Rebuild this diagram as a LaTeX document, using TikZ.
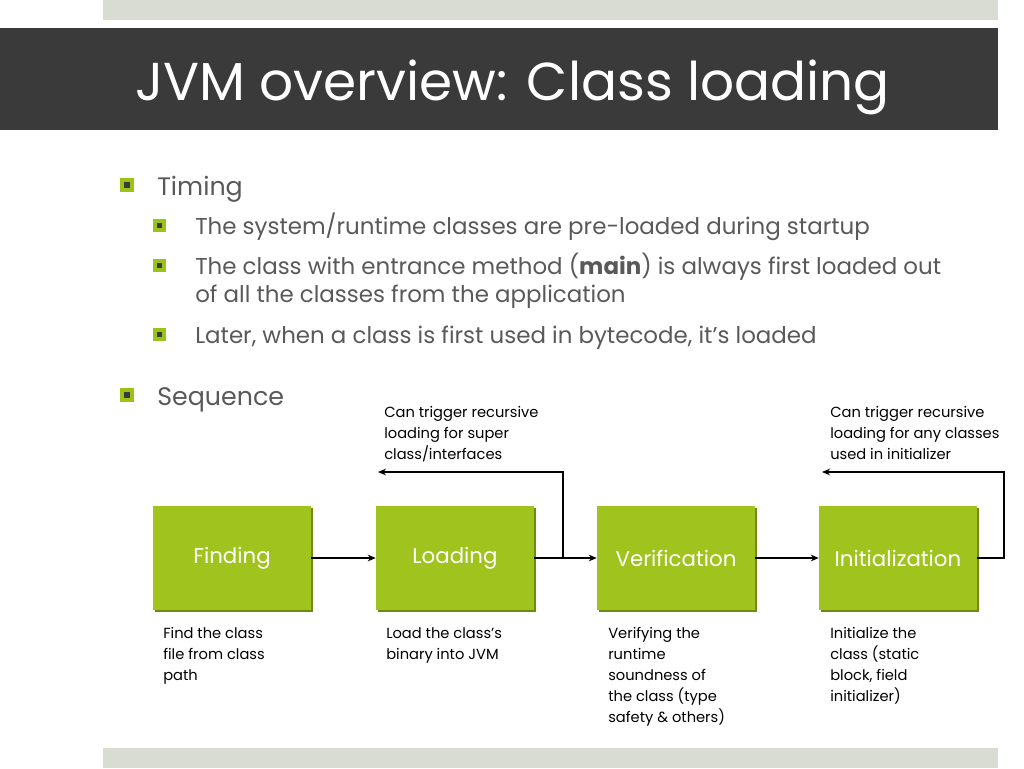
\documentclass[tikz,border=0pt]{standalone}
\usepackage{fontspec}
\setmainfont{Poppins}
\usetikzlibrary{arrows.meta}
\definecolor{gbar}{HTML}{D9DCD3}
\definecolor{dark}{HTML}{3A3A3A}
\definecolor{txt}{HTML}{595959}
\definecolor{boxg}{HTML}{A0C31E}
\definecolor{boxd}{HTML}{6F8A10}
\definecolor{bul}{HTML}{9CC21A}
\begin{document}
\begin{tikzpicture}[x=0.75pt,y=-0.75pt,
  stagebox/.style={fill=boxg,minimum width=118.5pt,minimum height=78pt,inner sep=0pt,text=white,font=\fontsize{16}{19}\selectfont},
  note/.style={anchor=north west,inner sep=0pt,align=left,text=black,font=\fontsize{11}{15.75}\selectfont},
  lvl1/.style={anchor=base west,inner sep=0pt,text=txt,font=\fontsize{19}{22}\selectfont},
  lvl2/.style={anchor=base west,inner sep=0pt,text=txt,font=\fontsize{17.2}{21}\selectfont},
  conn/.style={line width=1.6pt,-{Stealth[length=6pt,width=5pt]}}]
\useasboundingbox (0,0) rectangle (1024,768);
\fill[white] (0,0) rectangle (1024,768);
\fill[gbar] (103,0) rectangle (998,20);
\fill[gbar] (103,748) rectangle (998,768);
\fill[dark] (0,28) rectangle (998,130);
\node[anchor=base west,inner sep=0pt,text=white,font=\fontsize{40}{44}\selectfont] (title) at (135,100) {JVM overview: Class loading};
% bullets
\foreach \x/\y in {120/178,120/388}{
  \fill[bul] (\x,\y) rectangle ++(14,14);
  \fill[dark] (\x+4,\y+4) rectangle ++(6,6);}
\foreach \y in {219,259,328}{
  \fill[bul] (153,\y) rectangle ++(13,13);
  \fill[dark] (157,\y+4) rectangle ++(5,5);}
\node[lvl1] (t1) at (157,195) {Timing};
\node[lvl2] (s1) at (195,234) {The system/runtime classes are pre-loaded during startup};
\node[lvl2] (s2) at (195,274) {The class with entrance method (\textbf{main}) is always first loaded out};
\node[lvl2] (s2b) at (195,302) {of all the classes from the application};
\node[lvl2] (s3) at (195,343) {Later, when a class is first used in bytecode, it’s loaded};
\node[lvl1] (t2) at (157,405) {Sequence};
% boxes
\foreach \n/\x/\t in {f/232/Finding,l/455/Loading,v/676/Verification,i/898/Initialization}{
  \fill[boxd] (\x-79+2,506+2) rectangle (\x+79+2,610+2);
  \node[stagebox] (\n) at (\x,558) {\t};}
\draw[conn] (f.east) -- (l.west);
\draw[conn] (l.east) -- (v.west);
\draw[conn] (v.east) -- (i.west);
\coordinate (c1) at (378,472);
\coordinate (c2) at (822,472);
\draw[line width=1.6pt,-{Stealth[length=6pt,width=5pt]}] (563,558) |- (c1);
\draw[line width=1.6pt,-{Stealth[length=6pt,width=5pt]}] (i.east) -- (1004,558) |- (c2);
\node[note] (n1) at (384,406) {Can trigger recursive\\loading for super\\class/interfaces};
\node[note] (n2) at (830,406) {Can trigger recursive\\loading for any classes\\used in initializer};
\node[note] (d1) at (163,627) {Find the class\\file from class\\path};
\node[note] (d2) at (386,627) {Load the class’s\\binary into JVM};
\node[note] (d3) at (608,627) {Verifying the\\runtime\\soundness of\\the class (type\\safety \& others)};
\node[note] (d4) at (830,627) {Initialize the\\class (static\\block, field\\initializer)};
\end{tikzpicture}
\end{document}
